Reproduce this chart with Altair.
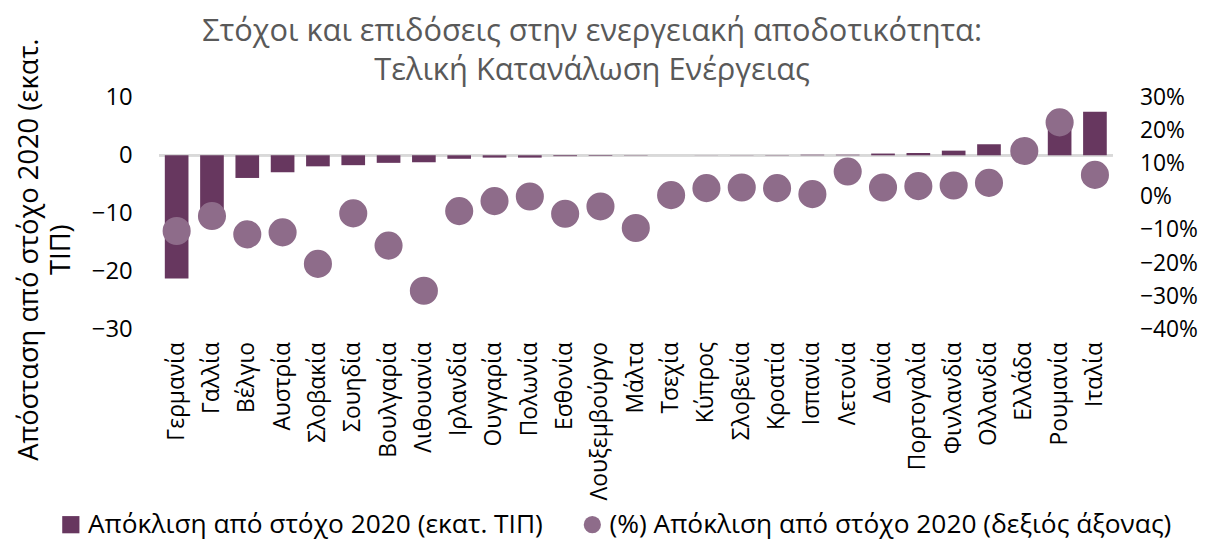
import altair as alt
import pandas as pd

countries = ["Γερμανία", "Γαλλία", "Βέλγιο", "Αυστρία", "Σλοβακία", "Σουηδία",
             "Βουλγαρία", "Λιθουανία", "Ιρλανδία", "Ουγγαρία", "Πολωνία", "Εσθονία",
             "Λουξεμβούργο", "Μάλτα", "Τσεχία", "Κύπρος", "Σλοβενία", "Κροατία",
             "Ισπανία", "Λετονία", "Δανία", "Πορτογαλία", "Φινλανδία", "Ολλανδία",
             "Ελλάδα", "Ρουμανία", "Ιταλία"]
gap_mtoe = [-21.2, -10.0, -3.9, -2.9, -1.9, -1.7, -1.3, -1.2, -0.6, -0.4, -0.4, -0.15,
            -0.1, -0.05, 0.0, 0.02, 0.03, 0.05, 0.1, 0.1, 0.3, 0.4, 0.8, 1.9,
            0.4, 4.5, 7.5]
gap_pct = [-10.3, -5.8, -11.3, -10.7, -20.2, -5.0, -14.7, -28.3, -4.3, -1.3, 0.1, -5.1,
           -2.9, -9.4, 0.5, 2.6, 2.8, 2.6, 0.8, 7.6, 2.8, 3.2, 3.4, 4.2,
           13.8, 22.4, 6.6]

s_bar = "Απόκλιση από στόχο 2020 (εκατ. ΤΙΠ)"
s_dot = "(%) Απόκλιση από στόχο 2020 (δεξιός άξονας)"
series = [s_bar, s_dot]
colors = ["#67375F", "#8E6C8A"]
shapes = ["square", "circle"]

df = pd.DataFrame({
    "country": countries,
    "mtoe": gap_mtoe,
    "pct": [v / 100 for v in gap_pct],
    "s_bar": s_bar,
    "s_dot": s_dot,
})

FONT = "Open Sans"

x_enc = alt.X("country:N", sort=countries, title=None,
              scale=alt.Scale(paddingInner=0.33, paddingOuter=0.165),
              axis=alt.Axis(labelAngle=-90, labelFontSize=23, labelPadding=12,
                            ticks=False, domain=False, labelColor="#000000",
                            labelFont=FONT, labelAlign="right", labelBaseline="middle",
                            labelLimit=300))

color_scale = alt.Scale(domain=series, range=colors)
shape_scale = alt.Scale(domain=series, range=shapes)
legend = alt.Legend(title=None, orient="none", direction="horizontal",
                    legendX=-102, legendY=417,
                    labelFontSize=26.5, labelFont=FONT, labelColor="#000000",
                    labelLimit=800, symbolSize=300, symbolStrokeWidth=0,
                    columnPadding=36, labelOffset=4)

base = alt.Chart(df)

zero = base.mark_rule(color="#D9D9D9", strokeWidth=2).encode(
    y=alt.datum(0, scale=alt.Scale(domain=[-30, 10]))
)

bars = base.mark_bar().encode(
    x=x_enc,
    y=alt.Y("mtoe:Q",
            scale=alt.Scale(domain=[-30, 10], nice=False, zero=True),
            axis=alt.Axis(orient="left", values=[-30, -20, -10, 0, 10], grid=False,
                          domain=False, ticks=False, labelFontSize=24, labelFont=FONT,
                          labelColor="#000000", labelPadding=27,
                          title=["Απόσταση από στόχο 2020 (εκατ.", "ΤΙΠ)"],
                          titleFontSize=27.5, titleFont=FONT, titleFontWeight="normal",
                          titleColor="#000000", titleAngle=270, titleAlign="center",
                          titleBaseline="top", titleY=153, titleX=-144,
                          titleLineHeight=32)),
    color=alt.Color("s_bar:N", scale=color_scale, legend=legend),
)

dots = base.mark_point(filled=True, opacity=1, size=800).encode(
    x=x_enc,
    y=alt.Y("pct:Q",
            scale=alt.Scale(domain=[-0.4, 0.3], nice=False, zero=False),
            axis=alt.Axis(orient="right", values=[-0.4, -0.3, -0.2, -0.1, 0, 0.1, 0.2, 0.3],
                          format=".0%", grid=False, domain=False, ticks=False,
                          labelFontSize=23, labelFont=FONT, labelColor="#000000",
                          labelPadding=27, title=None)),
    color=alt.Color("s_dot:N", scale=color_scale, legend=legend),
    shape=alt.Shape("s_dot:N", scale=shape_scale, legend=legend),
)

chart = alt.layer(alt.layer(zero, bars), dots).resolve_scale(
    y="independent"
).properties(
    width=960,
    height=234,
    autosize=alt.AutoSizeParams(type="none"),
    padding={"left": 152, "top": 88, "right": 90, "bottom": 210},
    title=alt.TitleParams(
        text=["Στόχοι και επιδόσεις στην ενεργειακή αποδοτικότητα:",
              "Τελική Κατανάλωση Ενέργειας"],
        fontSize=31, font=FONT, fontWeight="normal", color="#595959",
        anchor="middle", frame="group", dx=-44, lineHeight=39, offset=-49),
).configure_view(stroke=None)

chart.save("out.html", embed_options={"renderer": "svg", "actions": False})
